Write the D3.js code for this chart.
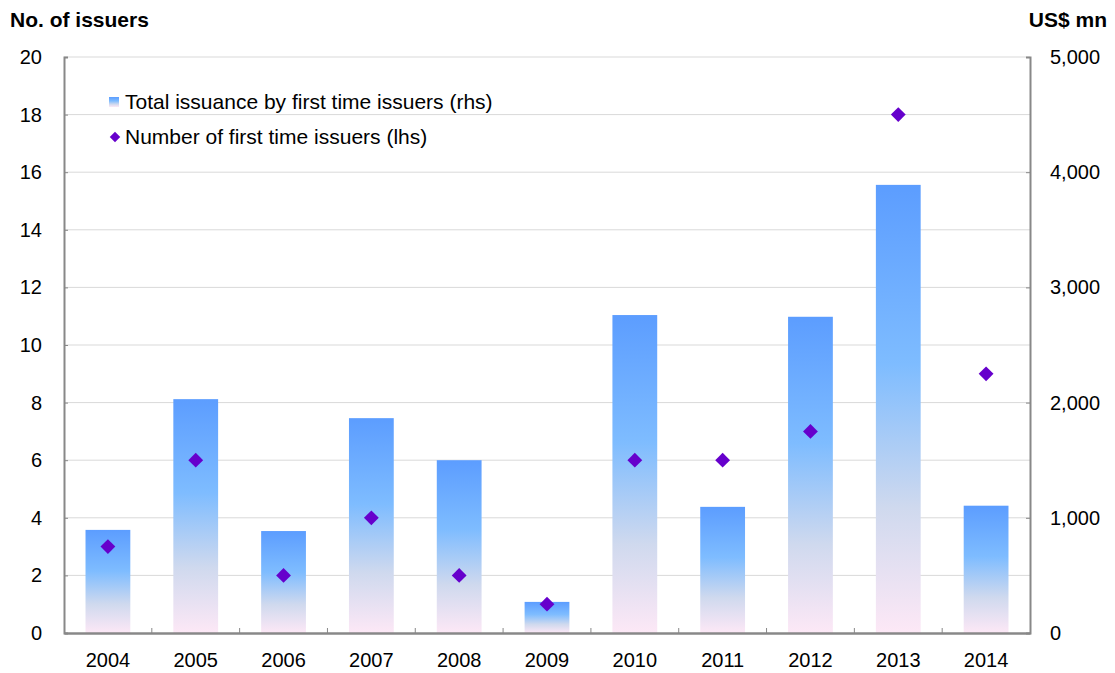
<!DOCTYPE html>
<html lang="en">
<head>
<meta charset="UTF-8">
<title>First time issuers</title>
<style>
  body { margin: 0; background: #fff; }
  text { font-family: Arial, "Liberation Sans", sans-serif; }
</style>
</head>
<body>
<script src="https://d3js.org/d3.v7.min.js"></script>
<script>
// data
const years = ['2004', '2005', '2006', '2007', '2008', '2009', '2010', '2011', '2012', '2013', '2014'];
const issuance = [895, 2030, 885, 1865, 1500, 270, 2760, 1095, 2745, 3890, 1105]; // US$ mn (rhs)
const issuers = [3, 6, 2, 4, 2, 1, 6, 6, 7, 18, 9]; // count (lhs)
const leftTicks = [0, 2, 4, 6, 8, 10, 12, 14, 16, 18, 20];
const rightTicks = [0, 1000, 2000, 3000, 4000, 5000];

const W = 1115, H = 673;
const m = { left: 64, right: 85, top: 57, bottom: 40 };

const svg = d3.select('body').append('svg').attr('width', W).attr('height', H);

const x = d3.scaleBand().domain(years).range([m.left, W - m.right]).paddingInner(0.49).paddingOuter(0.245);
const xb = d3.scaleBand().domain(years).range([m.left, W - m.right]);
const yL = d3.scaleLinear().domain([0, 20]).range([H - m.bottom, m.top]);
const yR = d3.scaleLinear().domain([0, 5000]).range([H - m.bottom, m.top]);

// gradient for bars
const grad = svg.append('defs').append('linearGradient')
    .attr('id', 'barGrad').attr('x1', 0).attr('y1', 0).attr('x2', 0).attr('y2', 1);
grad.append('stop').attr('offset', '0%').attr('stop-color', '#5c9dff');
grad.append('stop').attr('offset', '40%').attr('stop-color', '#7ebcff');
grad.append('stop').attr('offset', '72%').attr('stop-color', '#cfd9ee');
grad.append('stop').attr('offset', '100%').attr('stop-color', '#fde8f6');

// gridlines
svg.append('g').selectAll('line').data(leftTicks.slice(1)).enter().append('line')
    .attr('x1', m.left).attr('x2', W - m.right)
    .attr('y1', d => yL(d)).attr('y2', d => yL(d))
    .style('stroke', '#d9d9d9').style('stroke-width', 1);

// bars
svg.selectAll('.bar').data(issuance).enter().append('rect')
    .attr('class', 'bar')
    .attr('x', (d, i) => x(years[i]))
    .attr('width', x.bandwidth())
    .attr('y', d => yR(d))
    .attr('height', d => yR(0) - yR(d))
    .style('fill', 'url(#barGrad)');

// axes
const leftAxis = svg.append('g').attr('transform', `translate(${m.left},0)`)
    .call(d3.axisLeft(yL).tickValues(leftTicks).tickSize(-4).tickPadding(22));
const rightAxis = svg.append('g').attr('transform', `translate(${W - m.right},0)`)
    .call(d3.axisRight(yR).tickValues(rightTicks).tickSize(-4).tickPadding(20).tickFormat(d3.format(',')));
const bottomAxis = svg.append('g').attr('transform', `translate(0,${H - m.bottom})`)
    .call(d3.axisBottom(xb).tickSize(0).tickPadding(20));

// category separators on the bottom axis
svg.append('g').selectAll('line').data(years.slice(1)).enter().append('line')
    .attr('x1', d => xb(d)).attr('x2', d => xb(d))
    .attr('y1', H - m.bottom).attr('y2', H - m.bottom - 5)
    .style('stroke', '#888');

[leftAxis, rightAxis, bottomAxis].forEach(a => {
    a.select('.domain').style('stroke', '#888').style('stroke-width', 2);
    a.selectAll('.tick line').style('stroke', '#888');
    a.selectAll('.tick text').style('font-size', '20px').style('fill', '#000')
        .style('font-family', 'Arial, "Liberation Sans", sans-serif');
});
bottomAxis.select('.domain').style('stroke-width', 2.5);

// diamonds
svg.selectAll('.pt').data(issuers).enter().append('path')
    .attr('class', 'pt')
    .attr('d', d3.symbol().type(d3.symbolDiamond2).size(140))
    .attr('transform', (d, i) => `translate(${xb(years[i]) + xb.bandwidth() / 2},${yL(d)})`)
    .style('fill', '#6600cc');

// titles
svg.append('text').attr('x', 10).attr('y', 27).text('No. of issuers')
    .style('font-size', '21px').style('font-weight', 'bold');
svg.append('text').attr('x', 1107).attr('y', 27).attr('text-anchor', 'end').text('US$ mn')
    .style('font-size', '21px').style('font-weight', 'bold');

// legend
const lg = svg.append('g');
lg.append('rect').attr('x', 109).attr('y', 97).attr('width', 10).attr('height', 10).style('fill', 'url(#barGrad)');
lg.append('text').attr('x', 125).attr('y', 109).text('Total issuance by first time issuers (rhs)').style('font-size', '21px');
lg.append('path').attr('d', d3.symbol().type(d3.symbolDiamond2).size(70))
    .attr('transform', 'translate(115,137)').style('fill', '#6600cc');
lg.append('text').attr('x', 125).attr('y', 144).text('Number of first time issuers (lhs)').style('font-size', '21px');
</script>
</body>
</html>
